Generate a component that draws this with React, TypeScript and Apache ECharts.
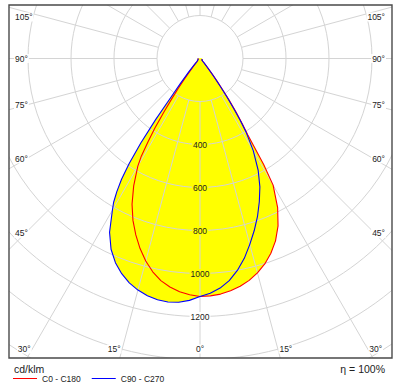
import React, { useEffect, useRef } from "react";
import * as echarts from "echarts";

// Nadir angles (degrees) at which the intensities were read
const nadirAngles = [0, 2.5, 5, 7.5, 10, 12.5, 15, 17.5, 20, 22.5, 25, 27.5, 30, 31, 32, 33, 34, 35, 36, 37, 38, 40, 42.5, 45, 50, 60, 75, 90];
// Luminous intensity in cd/klm per half-plane
const c0 = [1107, 1105, 1100, 1090, 1076, 1057, 1032, 1002, 964, 918, 859, 782, 680, 575, 420, 360, 300, 235, 178, 132, 98, 55, 30, 18, 12, 10, 10, 10];
const c180 = [1107, 1100, 1089, 1072, 1049, 1016, 975, 927, 873, 815, 748, 668, 579, 530, 455, 385, 300, 228, 170, 125, 92, 52, 28, 18, 12, 10, 10, 10];
const c90 = [1107, 1093, 1072, 1042, 1001, 952, 895, 839, 782, 721, 659, 586, 496, 447, 405, 345, 280, 220, 165, 122, 90, 50, 28, 18, 12, 10, 10, 10];
const c270 = [1107, 1126, 1138, 1142, 1139, 1130, 1115, 1094, 1065, 1028, 979, 911, 815, 780, 730, 670, 590, 480, 350, 210, 150, 80, 40, 20, 12, 10, 10, 10];

const radiusTicks = [400, 600, 800, 1000, 1200];
const angleTicks = [0, 15, 30, 45, 60, 75, 90, 105];
const seriesNames = ["C0 - C180", "C90 - C270"];
const unitLabel = "cd/klm";
const efficiencyLabel = "η = 100%";

const FONT = "'Liberation Sans', Arial, sans-serif";
const TEXT = "#222";
const GRID = "#d4d4d4";

// polar layout
const CX = 200;
const CY = 58.5;
const RMAX = 1800;
const PX_PER_CD = 0.215;
// plot frame
const BOX = { x: 9, y: 5, w: 383, h: 353 };

function plane(left: number[], right: number[]) {
  const pts: number[][] = [];
  for (let i = nadirAngles.length - 1; i >= 0; i--) pts.push([left[i], 360 - nadirAngles[i]]);
  for (let i = 1; i < nadirAngles.length; i++) pts.push([right[i], nadirAngles[i]]);
  return pts;
}

function angleLabelGraphics() {
  const out: any[] = [];
  const L = 21, R = 379, B = 349;
  angleTicks.forEach((deg) => {
    const sides = deg === 0 ? [0] : [-1, 1];
    sides.forEach((side) => {
      const a = (deg * Math.PI) / 180;
      const dx = side * Math.sin(a);
      const dy = Math.cos(a);
      let tx = Infinity, ty = Infinity;
      if (Math.abs(dx) > 1e-6) tx = ((dx < 0 ? L : R) - CX) / dx;
      if (dy > 1e-6) ty = (B - CY) / dy;
      const text = `${deg}°`;
      if (tx < ty) {
        const py = CY + tx * dy;
        out.push({
          type: "text",
          z: 102,
          x: side < 0 ? 14 : 386,
          y: Math.max(17, py - 6 * Math.cos(a)),
          style: {
            text, fill: TEXT, font: `8.5px ${FONT}`,
            align: side < 0 ? "left" : "right", verticalAlign: "middle",
            backgroundColor: "#fff", padding: [0, 1],
          },
        });
      } else {
        const px = CX + ty * dx + side * 8;
        out.push({
          type: "text",
          z: 102,
          x: px,
          y: B,
          style: {
            text, fill: TEXT, font: `8.5px ${FONT}`,
            align: "center", verticalAlign: "middle",
            backgroundColor: "#fff", padding: [0, 1],
          },
        });
      }
    });
  });
  return out;
}

export default function App() {
  const ref = useRef<HTMLDivElement>(null);
  useEffect(() => {
    if (!ref.current) return;
    const chart = echarts.init(ref.current, null, { renderer: "svg" });
    const red = plane(c180, c0);
    const blue = plane(c270, c90);
    const spokes: number[][] = [];
    for (let a = 0; a < 360; a += 15) spokes.push([200, a]);

    const option: any = {
      animation: false,
      polar: { center: [CX, CY], radius: RMAX * PX_PER_CD },
      angleAxis: {
        type: "value", min: 0, max: 360, startAngle: 270, clockwise: false,
        axisLine: { show: false }, axisTick: { show: false },
        axisLabel: { show: false }, splitLine: { show: false },
      },
      radiusAxis: {
        type: "value", min: 0, max: RMAX, interval: 200, z: 3,
        axisLine: { show: false }, axisTick: { show: false },
        splitLine: { show: true, lineStyle: { color: GRID, width: 1 } },
        axisLabel: {
          margin: 0, align: "center", verticalAlign: "middle",
          formatter: (v: number) =>
            radiusTicks.includes(v) ? (v < c0[0] ? `{y|${v}}` : `{w|${v}}`) : "",
          rich: {
            y: { backgroundColor: "#ffff00", padding: [0, 1], fontSize: 8.5, color: TEXT, fontFamily: FONT },
            w: { backgroundColor: "#ffffff", padding: [0, 1], fontSize: 8.5, color: TEXT, fontFamily: FONT },
          },
        },
      },
      legend: {
        data: seriesNames, left: 13, top: 374, padding: 0,
        itemWidth: 24, itemHeight: 1, itemGap: 11, icon: "rect",
        selectedMode: false, z: 200,
        textStyle: { fontSize: 8.5, color: TEXT, fontFamily: FONT },
      },
      series: [
        {
          type: "custom", coordinateSystem: "polar", z: 1, silent: true,
          data: [[0, 0]],
          renderItem: (_p: any, api: any) => ({
            type: "group",
            children: [red, blue].map((pts) => ({
              type: "polygon",
              shape: { points: pts.map((p) => api.coord(p)) },
              style: { fill: "#ffff00", stroke: null },
            })),
          }),
        },
        {
          type: "custom", coordinateSystem: "polar", z: 3, silent: true,
          data: spokes,
          renderItem: (_p: any, api: any) => {
            const a = api.value(1);
            const p1 = api.coord([200, a]);
            const p2 = api.coord([RMAX, a]);
            return {
              type: "line",
              shape: { x1: p1[0], y1: p1[1], x2: p2[0], y2: p2[1] },
              style: { stroke: GRID, lineWidth: 1 },
            };
          },
        },
        {
          type: "line", name: seriesNames[0], coordinateSystem: "polar",
          data: red, symbol: "none", z: 5,
          lineStyle: { color: "#ff0000", width: 1.1 }, itemStyle: { color: "#ff0000" },
        },
        {
          type: "line", name: seriesNames[1], coordinateSystem: "polar",
          data: blue, symbol: "none", z: 6,
          lineStyle: { color: "#0000ff", width: 1.1 }, itemStyle: { color: "#0000ff" },
        },
      ],
      graphic: [
        { type: "rect", z: 100, silent: true, shape: { x: 0, y: 0, width: 399, height: BOX.y }, style: { fill: "#fff" } },
        { type: "rect", z: 100, silent: true, shape: { x: 0, y: 0, width: BOX.x, height: 386 }, style: { fill: "#fff" } },
        { type: "rect", z: 100, silent: true, shape: { x: BOX.x + BOX.w, y: 0, width: 399 - BOX.x - BOX.w, height: 386 }, style: { fill: "#fff" } },
        { type: "rect", z: 100, silent: true, shape: { x: 0, y: BOX.y + BOX.h, width: 399, height: 386 - BOX.y - BOX.h }, style: { fill: "#fff" } },
        {
          type: "rect", z: 101, silent: true,
          shape: { x: BOX.x, y: BOX.y, width: BOX.w, height: BOX.h },
          style: { fill: "none", stroke: "#4a4a4a", lineWidth: 1.4 },
        },
        ...angleLabelGraphics(),
        {
          type: "text", z: 102, x: 14, y: 369,
          style: { text: unitLabel, fill: TEXT, font: `10.5px ${FONT}`, align: "left", verticalAlign: "middle" },
        },
        {
          type: "text", z: 102, x: 385, y: 369,
          style: { text: efficiencyLabel, fill: TEXT, font: `10.5px ${FONT}`, align: "right", verticalAlign: "middle" },
        },
      ],
    };
    chart.setOption(option);
    return () => chart.dispose();
  }, []);
  return (
    <div
      ref={ref}
      style={{ position: "fixed", left: 0, top: 0, width: 399, height: 386, background: "#fff" }}
    />
  );
}
